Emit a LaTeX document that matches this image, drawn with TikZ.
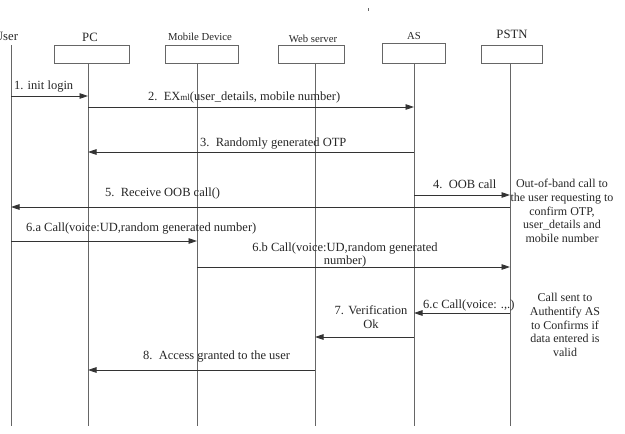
\documentclass[tikz,border=0pt]{standalone}
\usepackage{fontspec}
\setmainfont{Liberation Serif}
\usetikzlibrary{arrows.meta}
\begin{document}
\begin{tikzpicture}[x=1pt,y=-1pt,
  head/.style={draw=black!60,line width=0.9pt,inner sep=0pt,minimum height=18pt},
  life/.style={draw=black!60,line width=0.9pt},
  msg/.style={draw=black!80,line width=0.8pt,-{Triangle[length=8.5pt,width=5.5pt]}},
  lbl/.style={inner sep=0pt,text=black!85,font=\fontsize{12.5}{12.5}\selectfont},
  big/.style={inner sep=0pt,text=black!85,font=\fontsize{12.7}{14}\selectfont},
  small/.style={inner sep=0pt,text=black!85,font=\fontsize{10.7}{12}\selectfont},
  note/.style={inner sep=0pt,align=center,text=black!85,font=\fontsize{12}{13.7}\selectfont}]
\useasboundingbox (0,0) rectangle (625,434);

% heads
\node[head,minimum width=75pt] (pc) at (91.5,54) {};
\node[head,minimum width=73pt] (mob) at (201.5,54) {};
\node[head,minimum width=66pt] (web) at (311,54) {};
\node[head,minimum width=63pt,minimum height=20pt] (as) at (413.5,53) {};
\node[head,minimum width=61pt] (pstn) at (511.5,54) {};

% titles
\node[big] (tuser) at (6,36) {User};
\node[big] (tpc) at (90,37) {PC};
\node[small] (tmob) at (200,37) {Mobile Device};
\node[small] (tweb) at (313,39) {Web server};
\node[small] (tas) at (414,36) {AS};
\node[big] (tpstn) at (512,34) {PSTN};
\draw[black!60,line width=0.8pt] (368,8) -- (368,11);

% lifeline tops
\coordinate (uT) at (11,45);
\coordinate (pcT) at (88,63);
\coordinate (mobT) at (197,63);
\coordinate (webT) at (315,63);
\coordinate (asT) at (414,63);
\coordinate (pstnT) at (510,63);
\foreach \c in {uT,pcT,mobT,webT,asT,pstnT}
  \draw[life] (\c) -- (\c |- 0,426);

% messages
\draw[msg] (uT |- 0,96) -- (pcT |- 0,96);
\node[lbl,anchor=west] (m1) at (14,87) {1. init login};

\draw[msg] (pcT |- 0,107) -- (asT |- 0,107);
\node[lbl,anchor=west] (m2) at (148,97) {2.\ \ EX{\fontsize{9}{10}\selectfont ml}(user\_details, mobile number)};

\draw[msg] (asT |- 0,152) -- (pcT |- 0,152);
\node[lbl,anchor=west] (m3) at (200,144) {3.\ \ Randomly generated OTP};

\draw[msg] (asT |- 0,195) -- (pstnT |- 0,195);
\node[lbl,anchor=west] (m4) at (433,184) {4.\ \ OOB call};

\draw[msg] (pstnT |- 0,207) -- (uT |- 0,207);
\node[lbl,anchor=west] (m5) at (105,193) {5.\ \ Receive OOB call()};

\draw[msg] (uT |- 0,241) -- (mobT |- 0,241);
\node[lbl,anchor=west] (m6a) at (26,229) {6.a Call(voice:UD,random generated number)};

\draw[msg] (mobT |- 0,267) -- (pstnT |- 0,267);
\node[lbl,align=center] (m6b) at (345,255) {6.b Call(voice:UD,random generated\\number)};

\draw[msg] (pstnT |- 0,313) -- (asT |- 0,313);
\node[lbl,anchor=west] (m6c) at (423,305) {6.c Call(voice: .,.)};

\draw[msg] (asT |- 0,337) -- (webT |- 0,337);
\node[lbl,align=center,font=\fontsize{12.5}{14}\selectfont] (m7) at (371,317) {7. Verification\\Ok};

\draw[msg] (webT |- 0,370) -- (pcT |- 0,370);
\node[lbl,anchor=west] (m8) at (143,357) {8.\ \ Access granted to the user};

% notes
\node[note] (n1) at (562,211) {Out-of-band call to\\the user requesting to\\confirm OTP,\\user\_details and\\mobile number};
\node[note] (n2) at (565,325) {Call sent to\\Authentify AS\\to Confirms if\\data entered is\\valid};
\end{tikzpicture}
\end{document}
